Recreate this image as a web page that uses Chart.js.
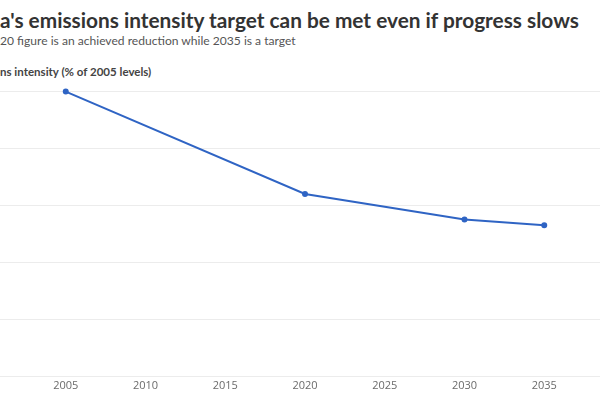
<!DOCTYPE html>
<html lang="en">
<head>
  <meta charset="UTF-8">
  <title>Emissions intensity</title>
  <style>
    body {
      margin: 0;
      width: 600px;
      height: 400px;
      overflow: hidden;
      position: relative;
      background: #fff;
      font-family: 'Lato', sans-serif;
    }
    .txt {
      position: absolute;
      white-space: nowrap;
      margin: 0;
    }
    #title { top: 7px; font-weight: 700; color: #333; }
    #subtitle { top: 33px; color: #555; }
    #axisLabel { top: 65px; font-weight: 700; color: #444; }
    .chart-box {
      position: absolute;
      left: -54px;
      top: 82px;
      width: 683px;
      height: 318px;
    }
  </style>
  <script src="https://cdn.jsdelivr.net/npm/chart.js"></script>
</head>
<body>
  <div id="title" class="txt">India's emissions intensity target can be met even if progress slows</div>
  <div id="subtitle" class="txt">The 2020 figure is an achieved reduction while 2035 is a target</div>
  <div id="axisLabel" class="txt">Emissions intensity (% of 2005 levels)</div>
  <div class="chart-box"><canvas id="chart"></canvas></div>

  <script>
    const years = [2005, 2020, 2030, 2035];
    const intensity = [100, 64, 55, 53];
    const xTicks = [2005, 2010, 2015, 2020, 2025, 2030, 2035];
    const yTicks = [0, 20, 40, 60, 80, 100];

    // text is cropped on the left in the reference: shift each line so the
    // hidden prefix sits off-screen and fit the visible part to its width
    const fitText = (id, hidden, visibleWidth, weight) => {
      const el = document.getElementById(id);
      const c = document.createElement('canvas').getContext('2d');
      c.font = `${weight} 100px Lato`;
      const full = el.textContent;
      const visW = c.measureText(full.slice(hidden.length)).width;
      const size = 100 * visibleWidth / visW;
      c.font = `${weight} ${size}px Lato`;
      el.style.fontSize = size + 'px';
      el.style.left = (-c.measureText(hidden).width) + 'px';
    };

    const ctx = document.getElementById('chart').getContext('2d');
    new Chart(ctx, {
      type: 'line',
      data: {
        datasets: [{
          data: years.map((y, i) => ({ x: y, y: intensity[i] })),
          borderColor: '#2f64c4',
          backgroundColor: '#2f64c4',
          borderWidth: 2,
          pointRadius: 2,
          pointHoverRadius: 3,
          tension: 0,
          clip: false
        }]
      },
      options: {
        responsive: true,
        maintainAspectRatio: false,
        animation: false,
        layout: { padding: 0 },
        plugins: { legend: { display: false }, tooltip: { enabled: false } },
        scales: {
          x: {
            type: 'linear',
            min: 2000,
            max: 2040,
            afterBuildTicks: (axis) => { axis.ticks = xTicks.map(v => ({ value: v })); },
            afterFit: (axis) => { axis.height = 24; },
            grid: { display: false, drawTicks: false },
            border: { display: false },
            ticks: {
              padding: 3,
              color: '#6b6b6b',
              font: { family: 'Open Sans', size: 11 },
              callback: (v) => String(v)
            }
          },
          y: {
            min: 0,
            max: 100,
            afterBuildTicks: (axis) => { axis.ticks = yTicks.map(v => ({ value: v })); },
            afterFit: (axis) => { axis.width = 40; },
            grid: { color: '#ececec', lineWidth: 1, drawTicks: false },
            border: { display: false },
            ticks: { color: '#666', font: { family: 'Open Sans', size: 11 } }
          }
        }
      }
    });

    fitText('title', 'Indi', 580, 700);
    fitText('subtitle', 'The 20', 296, 400);
    fitText('axisLabel', 'Emissio', 152, 700);
  </script>
</body>
</html>
